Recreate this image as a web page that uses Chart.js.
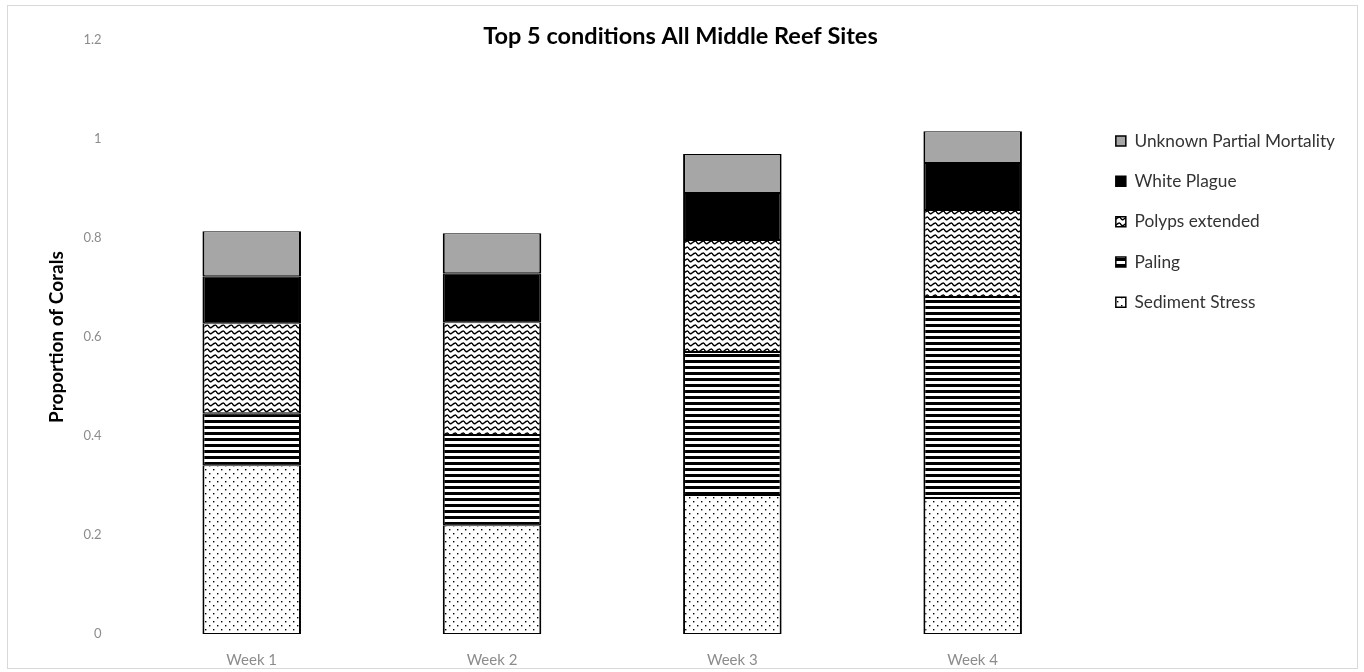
<!DOCTYPE html>
<html>
<head>
<meta charset="utf-8">
<script src="https://cdn.jsdelivr.net/npm/chart.js@4/dist/chart.umd.min.js"></script>
<style>
  body { margin: 0; background: #fff; }
  canvas { display: block; }
</style>
</head>
<body>
<canvas id="chart" width="1364" height="672"></canvas>
<script>
// data
const weeks = ['Week 1', 'Week 2', 'Week 3', 'Week 4'];
const sedimentStress = [0.341, 0.22, 0.281, 0.275];
const paling = [0.105, 0.182, 0.289, 0.406];
const polypsExtended = [0.182, 0.228, 0.226, 0.176];
const whitePlague = [0.095, 0.099, 0.095, 0.095];
const unknownPartialMortality = [0.091, 0.081, 0.079, 0.064];
const yTicks = [0, 0.2, 0.4, 0.6, 0.8, 1, 1.2];

// fill patterns
function makePattern(w, h, draw) {
    const c = document.createElement('canvas');
    c.width = w;
    c.height = h;
    const g = c.getContext('2d');
    g.fillStyle = '#fff';
    g.fillRect(0, 0, w, h);
    draw(g);
    return g.createPattern(c, 'repeat');
}

const ctx = document.querySelector('#chart').getContext('2d');

const dots = makePattern(8, 8, g => {
    g.fillStyle = '#000';
    g.fillRect(1, 1, 1.4, 1.4);
    g.fillRect(5, 5, 1.4, 1.4);
});

const stripes = makePattern(6, 6, g => {
    g.fillStyle = '#000';
    g.fillRect(0, 0, 6, 3);
});

const waves = makePattern(8, 6, g => {
    g.strokeStyle = '#000';
    g.lineWidth = 1.4;
    g.beginPath();
    g.moveTo(0, 1);
    g.quadraticCurveTo(2, 5, 4, 3);
    g.quadraticCurveTo(6, 1, 8, 1);
    g.stroke();
});

function segment(label, data, fill) {
    return {
        label: label,
        data: data,
        backgroundColor: fill,
        borderColor: '#000',
        borderWidth: {top: 1, bottom: 1, left: 2, right: 2},
        borderSkipped: false,
        barPercentage: 0.41,
        categoryPercentage: 1
    };
}

// light frame round the picture
const frame = {
    id: 'frame',
    beforeDraw(chart) {
        const c = chart.ctx;
        c.save();
        c.fillStyle = '#fff';
        c.fillRect(0, 0, chart.width, chart.height);
        c.strokeStyle = '#d9d9d9';
        c.lineWidth = 1;
        c.strokeRect(7.5, 5.5, 1350, 663);
        c.restore();
    }
};

new Chart(ctx, {
    type: 'bar',
    data: {
        labels: weeks,
        datasets: [
            segment('Sediment Stress', sedimentStress, dots),
            segment('Paling', paling, stripes),
            segment('Polyps extended', polypsExtended, waves),
            segment('White Plague', whitePlague, '#000'),
            segment('Unknown Partial Mortality', unknownPartialMortality, '#a6a6a6')
        ]
    },
    plugins: [frame],
    options: {
        responsive: false,
        animation: false,
        layout: {
            padding: {left: 16, right: 19, top: 0, bottom: -14}
        },
        plugins: {
            title: {
                display: true,
                text: 'Top 5 conditions All Middle Reef Sites',
                color: '#000',
                font: {family: 'Lato', size: 23.5, weight: 'bold'},
                padding: {top: 22, bottom: -10}
            },
            legend: {
                position: 'right',
                align: 'start',
                reverse: true,
                title: {display: true, text: '', padding: 47.5},
                labels: {
                    color: '#333',
                    font: {family: 'Lato', size: 17.3},
                    boxWidth: 10,
                    boxHeight: 10,
                    padding: 23
                }
            },
            tooltip: {enabled: false}
        },
        scales: {
            x: {
                stacked: true,
                grid: {display: false, drawTicks: false},
                border: {display: false},
                ticks: {
                    color: '#8c8c8c',
                    font: {family: 'Lato', size: 15},
                    padding: 17
                }
            },
            y: {
                stacked: true,
                min: 0,
                max: 1.2,
                afterBuildTicks: axis => {
                    axis.ticks = yTicks.map(v => ({value: v}));
                },
                grid: {display: false, drawTicks: false},
                border: {display: false},
                ticks: {
                    color: '#8c8c8c',
                    font: {family: 'Lato', size: 13},
                    padding: 30,
                    callback: v => String(+v.toFixed(1))
                },
                title: {
                    display: true,
                    text: 'Proportion of Corals',
                    color: '#000',
                    font: {family: 'Lato', size: 19, weight: 'bold'},
                    padding: {top: 29, bottom: -14.4}
                }
            }
        }
    }
});
</script>
</body>
</html>
